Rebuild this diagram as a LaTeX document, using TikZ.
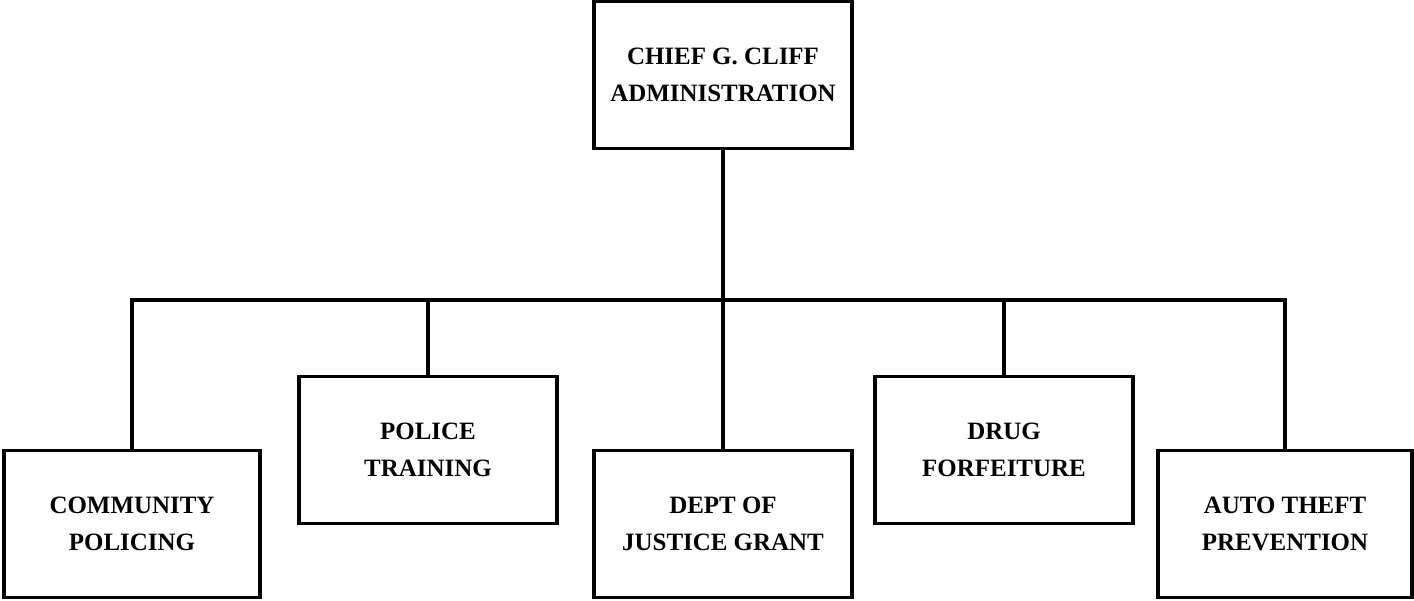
\documentclass[tikz,border=0pt]{standalone}
\usepackage{fontspec}
\setmainfont{Liberation Serif}
\usepackage{tikz}
\usetikzlibrary{arrows, shapes, fit}

\tikzset{
	unit/.style={draw, line width=2pt, minimum width=5.16cm, minimum height=2.94cm,
		align=center, font=\fontsize{14.2}{21}\selectfont\bfseries, inner sep=0pt},
	link/.style={line width=2pt}
}

\begin{document}
\begin{tikzpicture}[x=0.02cm, y=-0.02cm]
	\useasboundingbox (0,0) rectangle (1414,601);

	\node[unit] (chief) at (723, 75) {CHIEF G. CLIFF\\ADMINISTRATION};

	\node[unit, minimum width=5.12cm] (community) at (132, 524) {COMMUNITY\\POLICING};
	\node[unit] (training) at (428, 450) {POLICE\\TRAINING};
	\node[unit] (justice) at (723, 524) {DEPT OF\\JUSTICE GRANT};
	\node[unit] (drug) at (1004, 450) {DRUG\\FORFEITURE};
	\node[unit, minimum width=5.08cm] (auto) at (1285, 524) {AUTO THEFT\\PREVENTION};

	\coordinate (bus) at (723, 300);

	\draw[link] (chief.south) -- (bus);
	\draw[link] (community.north) |- (bus) -| (auto.north);
	\draw[link] (training.north) -- (training.north |- bus);
	\draw[link] (justice.north) -- (bus);
	\draw[link] (drug.north) -- (drug.north |- bus);
\end{tikzpicture}
\end{document}
